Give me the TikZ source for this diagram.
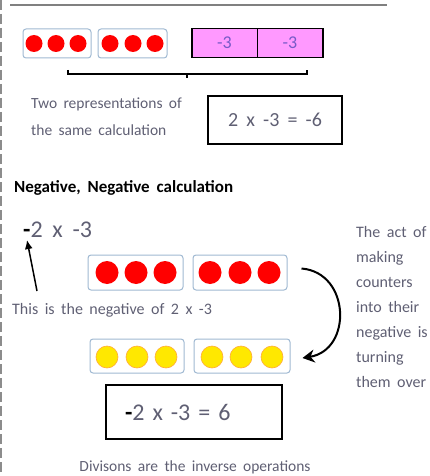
\documentclass[tikz,border=0pt]{standalone}
\usepackage{fontspec}
\setmainfont[WordSpace=1.8]{Carlito}
\usepackage{tikz}
\usetikzlibrary{arrows.meta,positioning}

\definecolor{frameblue}{RGB}{160,185,210}
\definecolor{pinkfill}{RGB}{255,153,255}
\definecolor{notegray}{RGB}{95,95,115}
\definecolor{minuspurple}{RGB}{120,90,200}
\definecolor{counteryellow}{RGB}{255,232,0}
\definecolor{counterorange}{RGB}{255,170,60}

\tikzset{
  counterbox/.style={draw=frameblue,line width=1pt,rounded corners=3pt,fill=white,inner sep=0pt},
  redcounter/.style={circle,fill=red,inner sep=0pt},
  yellowcounter/.style={circle,fill=counteryellow,draw=counterorange,line width=0.6pt,inner sep=0pt,minimum size=22pt},
  pinkbox/.style={draw=black,line width=1.5pt,fill=pinkfill,minimum width=65.5pt,minimum height=29pt,inner sep=0pt,text=minuspurple,font=\fontsize{18}{18}\selectfont},
  calcbox/.style={draw=black,line width=2pt,inner sep=0pt,text=notegray},
  note/.style={text=notegray,align=left,inner sep=0pt,font=\fontsize{16}{25}\selectfont}
}

\begin{document}
\begin{tikzpicture}[x=1pt,y=-1pt,>=Latex]
\useasboundingbox (0,0) rectangle (429,476);
% page edge and title rule
\draw[black!45,line width=1.2pt,dash pattern=on 10pt off 4pt] (1,0) -- (1,476);
\draw[black!50,line width=2.5pt] (10,5) -- (387,5);

% first representation: counters and bar model
\node[counterbox,minimum width=68pt,minimum height=29pt] (redA) at (57,43.5) {};
\node[counterbox,minimum width=69pt,minimum height=29pt] (redB) at (132.5,43.5) {};
\node[redcounter,minimum size=17pt] (ra1) at (34,43.5) {};
\node[redcounter,minimum size=17pt] (ra2) at (56,43.5) {};
\node[redcounter,minimum size=17pt] (ra3) at (78,43.5) {};
\node[redcounter,minimum size=17pt] (rb1) at (110,43.5) {};
\node[redcounter,minimum size=17pt] (rb2) at (133,43.5) {};
\node[redcounter,minimum size=17pt] (rb3) at (155,43.5) {};
\node[pinkbox] (barA) at (224.5,43) {-3};
\node[pinkbox] (barB) at (290,43) {-3};

% bracket under both
\draw[black,line width=1.5pt] (68,70) -- (68,74) -- (307,74) -- (307,70);
\draw[black,line width=1.5pt] (187,74) -- (187,78);

\node[note,font=\fontsize{15.5}{27}\selectfont,anchor=west] (tworeps) at (31,117) {Two representations of\\the same calculation};
\node[calcbox,minimum width=134pt,minimum height=48pt,font=\fontsize{20}{20}\selectfont] (calctop) at (275,120) {2 x -3 = -6};

% negative, negative part
\node[anchor=west,inner sep=0pt,font=\fontsize{17}{17}\selectfont\bfseries] (heading) at (14,188) {Negative, Negative calculation};
\node[anchor=west,inner sep=0pt,text=notegray,font=\fontsize{24}{24}\selectfont] (negexpr) at (23,230) {\textcolor{black}{\textbf{-}}2 x -3};

\node[counterbox,minimum width=95pt,minimum height=35pt] (redC) at (135.5,272.5) {};
\node[counterbox,minimum width=94pt,minimum height=35pt] (redD) at (240,272.5) {};
\node[redcounter,minimum size=23pt] (rc1) at (107,272.5) {};
\node[redcounter,minimum size=23pt] (rc2) at (136,272.5) {};
\node[redcounter,minimum size=23pt] (rc3) at (165,272.5) {};
\node[redcounter,minimum size=23pt] (rd1) at (210,272.5) {};
\node[redcounter,minimum size=23pt] (rd2) at (240,272.5) {};
\node[redcounter,minimum size=23pt] (rd3) at (269,272.5) {};

\node[note,anchor=west] (neglabel) at (12,310) {This is the negative of 2 x -3};
\coordinate (negtail) at (37,291);
\draw[->,line width=1.5pt,>={Latex[length=9pt,width=8pt]}] (negtail) -- ([xshift=4pt,yshift=-2pt]negexpr.south west);

\node[counterbox,minimum width=94pt,minimum height=34pt] (yelA) at (137,356) {};
\node[counterbox,minimum width=96pt,minimum height=34pt] (yelB) at (242,356) {};
\node[yellowcounter] (ya1) at (107,357) {};
\node[yellowcounter] (ya2) at (137,357) {};
\node[yellowcounter] (ya3) at (166,357) {};
\node[yellowcounter] (yb1) at (212,357) {};
\node[yellowcounter] (yb2) at (241,357) {};
\node[yellowcounter] (yb3) at (272,357) {};

\coordinate (flipstart) at ([xshift=14pt,yshift=4pt]redD.east);
\coordinate (flipend) at ([xshift=12pt,yshift=-2pt]yelB.east);
\draw[-{Stealth[length=12pt,width=13pt]},line width=2pt] (flipstart) .. controls +(49,4) and +(50,-8) .. (flipend);

\node[note,anchor=north west] (flipnote) at (356,226) {The act of\\making\\counters\\into their\\negative is\\turning\\them over};

\node[calcbox,minimum width=176pt,minimum height=54pt,text width=138pt,align=left,font=\fontsize{24}{24}\selectfont] (calcbottom) at (194,412) {\textcolor{black}{\textbf{-}}2 x -3 = 6};

\node[note,font=\fontsize{15.5}{25}\selectfont] (divnote) at (195,467) {Divisons are the inverse operations};
\end{tikzpicture}
\end{document}
